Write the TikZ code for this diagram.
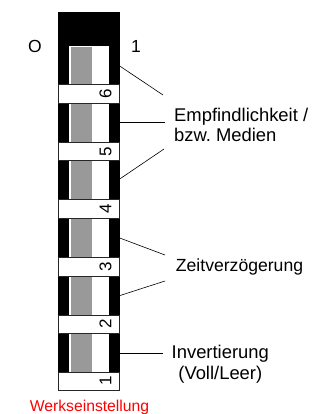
\documentclass[tikz,border=0pt]{standalone}
\usepackage{fontspec}
\setmainfont{Liberation Sans}
\frenchspacing
\definecolor{gr}{RGB}{153,153,153}
\tikzset{
  band/.style={draw=black!85,line width=0.7pt,fill=white,minimum width=61.4pt,inner sep=0pt},
  num/.style={font=\fontsize{17}{17}\selectfont,rotate=90,inner sep=0pt},
  lbl/.style={font=\fontsize{18.4}{20.5}\selectfont,inner sep=0pt,anchor=base},
  lead/.style={draw=black,line width=0.6pt},
}
\begin{document}
\begin{tikzpicture}[x=1pt,y=-1pt]
\useasboundingbox (0,0) rectangle (323,414);
\fill[white] (0,0) rectangle (323,414);
\node[fill=black,minimum width=61.4pt,minimum height=378.5pt,inner sep=0pt] (bar) at (89,201) {};
% windows
\foreach \yt/\yb in {46.3/84,103/142,161/199,218/257,276/315,333/372}{
  \fill[white] (69.3,\yt) rectangle (108.7,\yb);
  \fill[gr] (70.7,\yt+0.3) rectangle (92,\yb);
}
% bands
\node[band,minimum height=19.3pt] (b6) at (89,93.7) {};
\node[band,minimum height=18.4pt] (b5) at (89,151.5) {};
\node[band,minimum height=19pt] (b4) at (89,208.8) {};
\node[band,minimum height=19pt] (b3) at (89,266.8) {};
\node[band,minimum height=18.3pt] (b2) at (89,324.2) {};
\node[band,minimum height=17.7pt] (b1) at (89,381.2) {};
\node[num] (n6) at (105.5,93.7) {6};
\node[num] (n5) at (105.5,151.5) {5};
\node[num] (n4) at (105.5,208.8) {4};
\node[num] (n3) at (105.5,266.8) {3};
\node[num] (n2) at (105.5,324.2) {2};
\node[num] (n1) at (105.5,381.2) {1};
\node[lbl,font=\fontsize{17.5}{17}\selectfont] (o) at (35,52.7) {O};
\node[lbl,font=\fontsize{17.5}{17}\selectfont] (one) at (136,52.7) {1};
\node[lbl,anchor=base west,align=left] (emp) at (174,141.7) {Empfindlichkeit /\\bzw. Medien};
\node[lbl,font=\fontsize{17.6}{20}\selectfont] (zeit) at (239.5,271.7) {Zeitverzögerung};
\node[lbl,align=center] (inv) at (220.3,379.3) {Invertierung\\(Voll/Leer)};
\node[font=\fontsize{15.7}{16}\selectfont,text=red,inner sep=0pt,anchor=base] (werk) at (89.5,411.7) {Werkseinstellung};
\coordinate (s1) at (119.7,66);
\coordinate (s2) at (119.7,122.5);
\coordinate (s3) at (119.7,179);
\coordinate (s4) at (119.7,238);
\coordinate (s5) at (119.7,295.6);
\coordinate (s6) at (119.7,353);
\coordinate (e1) at (163,95);
\coordinate (e2) at (165,122.5);
\coordinate (e3) at (164,149);
\coordinate (z1) at (165,255);
\coordinate (z2) at (165,281);
\coordinate (i1) at (163,353);
\draw[lead] (s1) -- (e1);
\draw[lead] (s2) -- (e2);
\draw[lead] (s3) -- (e3);
\draw[lead] (s4) -- (z1);
\draw[lead] (s5) -- (z2);
\draw[lead] (s6) -- (i1);
\end{tikzpicture}
\end{document}
